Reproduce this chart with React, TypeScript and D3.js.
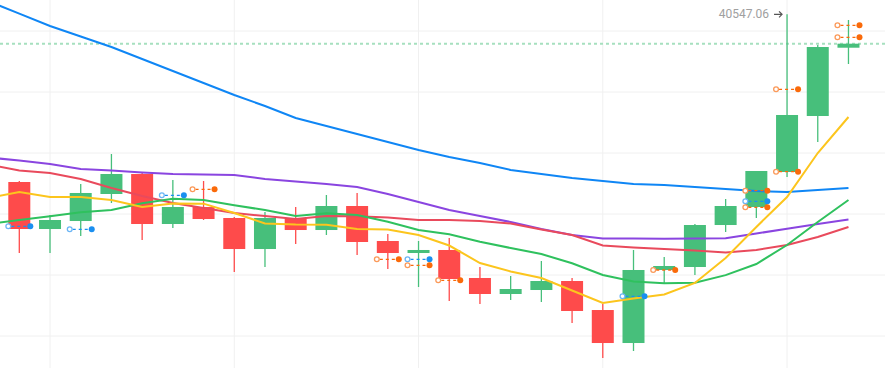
import React, { useEffect, useRef } from 'react';
import * as d3 from 'd3';

const W = 885;
const H = 368;

// candles, one per bar
const opens = [35049, 33508, 33770, 34656, 35311, 33672, 34229, 33869, 32852, 33836, 33475, 34262, 33115, 32721, 32820, 31902, 31377, 31508, 31803, 30852, 29770, 32164, 32262, 33639, 34229, 35377, 37213, 39452];
const highs = [35082, 33967, 34984, 35967, 35344, 35115, 35082, 33902, 34066, 34229, 34623, 34689, 33344, 33115, 33213, 32262, 31967, 32459, 31902, 31049, 32820, 32590, 33672, 34492, 35410, 40547.06, 39541, 40361];
const lows = [32721, 32721, 33279, 34361, 33148, 33541, 33803, 32098, 32262, 33016, 33311, 32656, 32197, 31607, 31148, 31049, 31180, 31115, 30426, 29279, 29508, 31738, 32000, 33410, 33869, 35213, 36361, 38918];
const closes = [33508, 33803, 34689, 35311, 33672, 34229, 33836, 32852, 33869, 33475, 34262, 33082, 32721, 32820, 31869, 31377, 31541, 31803, 30820, 29770, 32164, 32295, 33639, 34262, 35410, 37246, 39475, 39584];

// moving averages: first value belongs to the bar just left of the view
const maBlue = [40974, 40570, 40164, 39820, 39475, 39082, 38689, 38295, 37902, 37541, 37148, 36885, 36623, 36361, 36098, 35869, 35672, 35443, 35311, 35180, 35082, 34984, 34951, 34885, 34820, 34754, 34721, 34787, 34852];
const maPurple = [35852, 35754, 35639, 35475, 35426, 35361, 35311, 35295, 35279, 35148, 35066, 34984, 34885, 34656, 34393, 34131, 33934, 33738, 33508, 33311, 33197, 33197, 33190, 33200, 33203, 33360, 33520, 33672, 33820];
const maRed = [35623, 35426, 35344, 35148, 34852, 34590, 34361, 34197, 34033, 33934, 33836, 33934, 33930, 33885, 33803, 33800, 33770, 33689, 33492, 33311, 32967, 32902, 32852, 32803, 32738, 32820, 32984, 33246, 33574];
const maYellow = [34525, 34721, 34557, 34560, 34459, 34230, 34344, 34340, 34033, 33689, 33656, 33650, 33508, 33492, 33311, 32967, 32393, 32115, 31902, 31492, 31082, 31230, 31361, 31738, 32557, 33574, 34557, 36000, 37180];
const maGreen = [33672, 33803, 33925, 34056, 34131, 34351, 34502, 34459, 34285, 34131, 33934, 34023, 33967, 33747, 33475, 33334, 33092, 32885, 32688, 32384, 32000, 31787, 31728, 31748, 31995, 32361, 32984, 33738, 34459];

// trade marks
const markBar = [0, 2, 5, 6, 12, 13, 13, 14, 20, 21, 24, 24, 24, 25, 25, 27, 27];
const markPrice = [33597, 33499, 34613, 34810, 32515, 32515, 32318, 31826, 31302, 32164, 34764, 34416, 34220, 35387, 38089, 40187, 39793];
const markSide = ['b', 'b', 'b', 'o', 'o', 'b', 'o', 'o', 'b', 'o', 'o', 'b', 'o', 'o', 'o', 'o', 'o'];

const priceTicks = [28000, 30000, 32000, 34000, 36000, 38000, 40000, 42000];
const timeTicks = [1, 7, 13, 19, 25];

const UP = '#47bf7b';
const DOWN = '#fe4b4b';

const App = () => {
  const ref = useRef<SVGSVGElement>(null);

  useEffect(() => {
    const svg = d3.select(ref.current);
    svg.selectAll('*').remove();

    const step = 30.71;
    const x = d3.scaleLinear().domain([0, 27]).range([19.3, 19.3 + 27 * step]);
    const y = d3.scaleLinear().domain([30000, 40000]).range([336, 31]);
    const bodyW = 22;

    // grid
    svg.append('g').selectAll('line').data(priceTicks).join('line')
      .attr('x1', 0).attr('x2', W)
      .attr('y1', d => y(d)).attr('y2', d => y(d))
      .attr('stroke', '#f0f0f0').attr('stroke-width', 1);
    svg.append('g').selectAll('line').data(timeTicks).join('line')
      .attr('x1', d => x(d)).attr('x2', d => x(d))
      .attr('y1', 0).attr('y2', H)
      .attr('stroke', '#f0f0f0').attr('stroke-width', 1);

    // last price line
    const last = closes[closes.length - 1];
    svg.append('line')
      .attr('x1', 0).attr('x2', W)
      .attr('y1', y(last)).attr('y2', y(last))
      .attr('stroke', '#a6e0bf').attr('stroke-width', 2)
      .attr('stroke-dasharray', '3,3');

    // candles
    const idx = d3.range(opens.length);
    const col = (i: number) => (closes[i] >= opens[i] ? UP : DOWN);
    const candles = svg.append('g');
    candles.selectAll('line').data(idx).join('line')
      .attr('x1', i => x(i)).attr('x2', i => x(i))
      .attr('y1', i => y(highs[i])).attr('y2', i => y(lows[i]))
      .attr('stroke', col).attr('stroke-width', 1.3);
    candles.selectAll('rect').data(idx).join('rect')
      .attr('x', i => x(i) - bodyW / 2)
      .attr('width', bodyW)
      .attr('y', i => y(Math.max(opens[i], closes[i])))
      .attr('height', i => Math.max(1, Math.abs(y(opens[i]) - y(closes[i]))))
      .attr('fill', col);

    // moving averages
    const line = d3.line<number>().x((d, i) => x(i - 1)).y(d => y(d));
    const mas: [number[], string][] = [
      [maBlue, '#0f86f5'],
      [maPurple, '#8a45e0'],
      [maRed, '#e94a5c'],
      [maGreen, '#2fc15e'],
      [maYellow, '#fcc51d'],
    ];
    mas.forEach(([d, c]) => {
      svg.append('path').datum(d)
        .attr('d', line)
        .attr('fill', 'none')
        .attr('stroke', c)
        .attr('stroke-width', 2);
    });

    // trade marks
    const marks = svg.append('g');
    markBar.forEach((b, k) => {
      const c = markSide[k] === 'b' ? '#1a8ff0' : '#fa6a0a';
      const cl = markSide[k] === 'b' ? '#6cb6f5' : '#fb9a5a';
      const yy = y(markPrice[k]);
      const x0 = x(b) - 11;
      const x1 = x(b) + 11;
      marks.append('line')
        .attr('x1', x0 + 3).attr('x2', x1 - 3)
        .attr('y1', yy).attr('y2', yy)
        .attr('stroke', c).attr('stroke-width', 1.3)
        .attr('stroke-dasharray', '3,3');
      marks.append('circle')
        .attr('cx', x0).attr('cy', yy).attr('r', 2.4)
        .attr('fill', '#fff').attr('stroke', cl).attr('stroke-width', 1.3);
      marks.append('circle')
        .attr('cx', x1).attr('cy', yy).attr('r', 3)
        .attr('fill', c);
    });

    // highest price label
    const hi = d3.maxIndex(highs);
    const hx = x(hi);
    const hy = y(highs[hi]);
    svg.append('text')
      .attr('x', hx - 18).attr('y', hy + 4)
      .attr('text-anchor', 'end')
      .attr('fill', '#a0a0a0')
      .style('font-family', 'Roboto, sans-serif')
      .style('font-size', '12px')
      .text(highs[hi].toFixed(2));
    svg.append('path')
      .attr('d', `M${hx - 13},${hy}H${hx - 5}M${hx - 8},${hy - 3}L${hx - 5},${hy}L${hx - 8},${hy + 3}`)
      .attr('fill', 'none').attr('stroke', '#555').attr('stroke-width', 1.2);
  }, []);

  return (
    <svg
      ref={ref}
      width={W}
      height={H}
      style={{ position: 'fixed', left: 0, top: 0, background: '#fff' }}
    />
  );
};

export default App;
